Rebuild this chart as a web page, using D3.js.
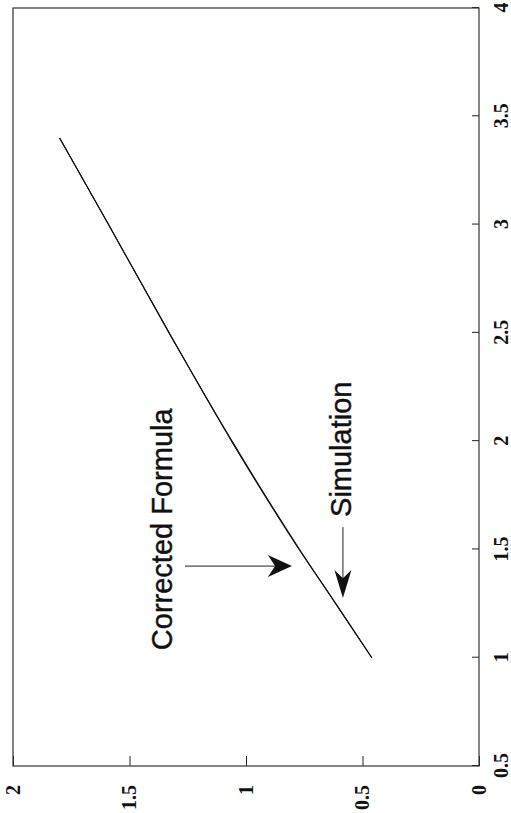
<!DOCTYPE html>
<html>
<head>
<meta charset="utf-8">
<script src="https://cdn.jsdelivr.net/npm/d3@7"></script>
<style>
	body { margin: 0; background: #fff; }
	svg { display: block; }
	.axis path { stroke: none; }
	.axis line { stroke: #222; stroke-width: 1; }
	.axis text { font-family: "Liberation Serif", "Times New Roman", serif; font-size: 20px; font-weight: bold; fill: #111; }
	.frame { fill: none; stroke: #333; stroke-width: 1.2; }
	.curve { fill: none; stroke: #111; stroke-width: 1.1; }
	.note { font-family: "Liberation Sans", Arial, sans-serif; font-size: 29px; fill: #111; stroke: #111; stroke-width: 0.4; }
	.arrow { stroke: #222; stroke-width: 1; }
	.head { fill: #111; }
</style>
</head>
<body>
<div id="chart"></div>
<script>
// data (x = horizontal axis of the unrotated figure)
const xTicks = [0.5, 1, 1.5, 2, 2.5, 3, 3.5, 4];
const xTickLabels = ["0.5", "1", "1.5", "2", "2.5", "3", "3.5", "4"];
const yTicks = [0, 0.5, 1, 1.5, 2];
const yTickLabels = ["0", "0.5", "1", "1.5", "2"];

const xs = [1, 1.25, 1.5, 2, 2.5, 3, 3.4];
const simulation = [0.46, 0.615, 0.77, 1.06, 1.33, 1.59, 1.80];
const corrected = [0.46, 0.615, 0.772, 1.062, 1.33, 1.59, 1.80];

const W = 511, H = 813;
const plotW = 758; // along x axis (screen vertical once rotated)
const plotH = 466; // along y axis (screen horizontal once rotated)

const svg = d3.select("#chart").append("svg")
	.attr("width", W)
	.attr("height", H);

// the whole figure is printed turned a quarter turn
const chart = svg.append("g")
	.attr("transform", "translate(13, 766) rotate(-90)");

const xScale = d3.scaleLinear().domain([0.5, 4]).range([0, plotW]);
const yScale = d3.scaleLinear().domain([0, 2]).range([plotH, 0]);

chart.append("g")
	.attr("class", "axis x-axis")
	.attr("transform", `translate(0, ${plotH})`)
	.call(d3.axisBottom(xScale)
		.tickValues(xTicks)
		.tickFormat((d, i) => xTickLabels[i])
		.tickSizeInner(-7)
		.tickSizeOuter(0)
		.tickPadding(15));

chart.append("g")
	.attr("class", "axis y-axis")
	.call(d3.axisLeft(yScale)
		.tickValues(yTicks)
		.tickFormat((d, i) => yTickLabels[i])
		.tickSizeInner(-10)
		.tickSizeOuter(0)
		.tickPadding(19));

chart.append("rect")
	.attr("class", "frame")
	.attr("x", 0)
	.attr("y", 0)
	.attr("width", plotW)
	.attr("height", plotH);

const line = d3.line()
	.x(d => xScale(d[0]))
	.y(d => yScale(d[1]))
	.curve(d3.curveMonotoneX);

chart.append("path")
	.attr("class", "curve")
	.attr("d", line(xs.map((x, i) => [x, simulation[i]])));

chart.append("path")
	.attr("class", "curve")
	.attr("d", line(xs.map((x, i) => [x, corrected[i]])));

// labels and arrows
chart.append("text")
	.attr("class", "note")
	.attr("x", xScale(1.035))
	.attr("y", yScale(1.318))
	.text("Corrected Formula");

chart.append("text")
	.attr("class", "note")
	.attr("x", xScale(1.65))
	.attr("y", yScale(0.549))
	.text("Simulation");

function arrow(x0, y0, x1, y1, len, wid) {
	const ax = xScale(x0), ay = yScale(y0);
	const bx = xScale(x1), by = yScale(y1);
	const ang = Math.atan2(by - ay, bx - ax) * 180 / Math.PI;
	const d = Math.hypot(bx - ax, by - ay);
	chart.append("line")
		.attr("class", "arrow")
		.attr("x1", ax)
		.attr("y1", ay)
		.attr("x2", bx - (bx - ax) / d * len * 0.6)
		.attr("y2", by - (by - ay) / d * len * 0.6);
	chart.append("path")
		.attr("class", "head")
		.attr("transform", `translate(${bx}, ${by}) rotate(${ang})`)
		.attr("d", `M0,0 L${-len},${-wid / 2} L${-len * 0.7},0 L${-len},${wid / 2} Z`);
}

arrow(1.423, 1.262, 1.423, 0.803, 24, 22);
arrow(1.603, 0.584, 1.276, 0.584, 28, 17);
</script>
</body>
</html>
